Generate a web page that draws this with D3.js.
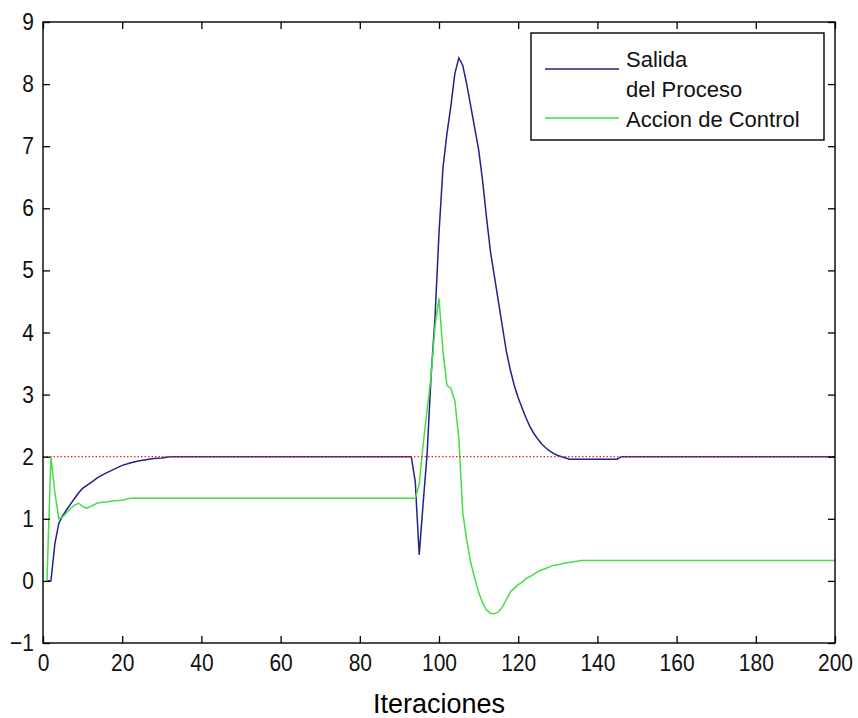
<!DOCTYPE html>
<html>
<head>
<meta charset="utf-8">
<script src="https://cdn.jsdelivr.net/npm/d3@7"></script>
<style>
  body { margin: 0; background: #fff; }
  svg { display: block; }
  text { font-family: "Liberation Sans", Arial, sans-serif; }
</style>
</head>
<body>
<div id="chart"></div>
<script>
const width = 858;
const height = 718;

// Salida del Proceso (blue)
const salidaX = [1, 2, 3, 4, 5, 6, 7, 8, 9, 10, 12, 14, 16, 18, 20, 22, 24, 26, 28, 30, 32,
  93, 94, 95, 96, 97, 98, 99, 100, 101, 102, 103, 104, 105, 106, 107, 108, 109, 110,
  111, 112, 113, 114, 115, 116, 117, 118, 119, 120, 121, 122, 123, 124, 125, 126, 127,
  128, 129, 130, 131, 132, 133, 145, 146, 200];
const salidaY = [0, 0, 0.6, 0.93, 1.05, 1.15, 1.24, 1.33, 1.42, 1.49, 1.58, 1.67, 1.74, 1.8, 1.86, 1.9, 1.93, 1.95, 1.97, 1.98, 2.0,
  2.0, 1.6, 0.42, 1.25, 2.05, 3.3, 4.25, 5.6, 6.65, 7.2, 7.65, 8.17, 8.42, 8.3, 8.0, 7.65, 7.3, 6.95,
  6.45, 5.85, 5.3, 4.9, 4.5, 4.1, 3.7, 3.4, 3.15, 2.95, 2.78, 2.62, 2.48, 2.37, 2.28, 2.2, 2.14,
  2.09, 2.05, 2.02, 2.0, 1.98, 1.96, 1.96, 2.0, 2.0];

// Accion de Control (green)
const accionX = [1, 2, 3, 4, 5, 6, 7, 8, 9, 10, 11, 12, 13, 14, 16, 18, 20, 22,
  94, 95, 96, 97, 98, 99, 100, 101, 102, 103, 104, 105, 106, 107, 108, 109, 110,
  111, 112, 113, 114, 115, 116, 117, 118, 119, 120, 121, 122, 123, 124, 125, 126,
  127, 128, 129, 130, 132, 134, 136, 200];
const accionY = [0, 2.0, 1.42, 1.0, 1.03, 1.1, 1.17, 1.22, 1.25, 1.2, 1.17, 1.2, 1.23, 1.26, 1.27, 1.29, 1.3, 1.33,
  1.33, 1.55, 2.2, 2.75, 3.3, 4.1, 4.55, 3.7, 3.15, 3.1, 2.9, 2.3, 1.1, 0.66, 0.3, 0.05, -0.18,
  -0.35, -0.47, -0.52, -0.53, -0.5, -0.42, -0.3, -0.18, -0.12, -0.06, -0.02, 0.04, 0.07, 0.11, 0.15, 0.18,
  0.2, 0.23, 0.25, 0.26, 0.29, 0.31, 0.33, 0.33];

// reference (red dotted)
const refX = [0, 200];
const refY = [2, 2];

const xTicks = [0, 20, 40, 60, 80, 100, 120, 140, 160, 180, 200];
const yTicks = [-1, 0, 1, 2, 3, 4, 5, 6, 7, 8, 9];

const margin = { top: 22, right: 23, bottom: 75, left: 43 };
const iw = width - margin.left - margin.right;
const ih = height - margin.top - margin.bottom;

const svg = d3.select("#chart")
  .append("svg")
  .attr("width", width)
  .attr("height", height);

const g = svg.append("g")
  .attr("transform", `translate(${margin.left},${margin.top})`);

const x = d3.scaleLinear().domain([0, 200]).range([0, iw]);
const y = d3.scaleLinear().domain([-1, 9]).range([ih, 0]);

const line = d3.line()
  .x(d => x(d[0]))
  .y(d => y(d[1]));

const zip = (xs, ys) => xs.map((v, i) => [v, ys[i]]);

g.append("path")
  .datum(zip(salidaX, salidaY))
  .attr("d", line)
  .attr("fill", "none")
  .attr("stroke", "#22228a")
  .attr("stroke-width", 1.5);

g.append("path")
  .datum(zip(accionX, accionY))
  .attr("d", line)
  .attr("fill", "none")
  .attr("stroke", "#45de45")
  .attr("stroke-width", 1.5);

g.append("path")
  .datum(zip(refX, refY))
  .attr("d", line)
  .attr("fill", "none")
  .attr("stroke", "#ff2020")
  .attr("stroke-width", 1.2)
  .attr("stroke-dasharray", "1.5,2");

// axes with inward ticks, box style
const tickLen = 7;

const xAxis = g.append("g")
  .attr("transform", `translate(0,${ih})`)
  .call(d3.axisBottom(x).tickValues(xTicks).tickSizeInner(-tickLen).tickSizeOuter(0).tickPadding(10));

const yAxis = g.append("g")
  .call(d3.axisLeft(y).tickValues(yTicks).tickSizeInner(-tickLen).tickSizeOuter(0).tickPadding(9));

g.append("g")
  .call(d3.axisTop(x).tickValues(xTicks).tickSizeInner(-tickLen).tickSizeOuter(0).tickFormat(""));

g.append("g")
  .attr("transform", `translate(${iw},0)`)
  .call(d3.axisRight(y).tickValues(yTicks).tickSizeInner(-tickLen).tickSizeOuter(0).tickFormat(""));

g.selectAll(".domain").remove();
g.selectAll(".tick line").attr("stroke", "#000").attr("stroke-width", 1.3);

// labels are slightly tall and narrow in the original
xAxis.selectAll("text")
  .attr("font-size", 21)
  .attr("fill", "#111")
  .attr("transform", "scale(1,1.12)");
yAxis.selectAll("text")
  .attr("font-size", 21)
  .attr("fill", "#111")
  .attr("transform", "scale(1,1.12)");

g.append("rect")
  .attr("width", iw)
  .attr("height", ih)
  .attr("fill", "none")
  .attr("stroke", "#000")
  .attr("stroke-width", 1.4);

svg.append("text")
  .attr("x", margin.left + iw / 2)
  .attr("y", 713)
  .attr("text-anchor", "middle")
  .attr("font-size", 27)
  .attr("fill", "#000")
  .text("Iteraciones");

// Legend
const legend = svg.append("g").attr("transform", "translate(531,33)");

legend.append("rect")
  .attr("width", 293)
  .attr("height", 107)
  .attr("fill", "#fff")
  .attr("stroke", "#000")
  .attr("stroke-width", 1.4);

const legendItems = [
  { lines: ["Salida", "del Proceso"], color: "#22228a", ly: 36, ty: 34 },
  { lines: ["Accion de Control"], color: "#45de45", ly: 85, ty: 94 }
];

legendItems.forEach(item => {
  legend.append("line")
    .attr("x1", 14)
    .attr("x2", 88)
    .attr("y1", item.ly)
    .attr("y2", item.ly)
    .attr("stroke", item.color)
    .attr("stroke-width", 1.5);

  const t = legend.append("text")
    .attr("x", 95)
    .attr("y", item.ty)
    .attr("font-size", 22)
    .attr("fill", "#111");
  item.lines.forEach((s, i) => {
    t.append("tspan")
      .attr("x", 95)
      .attr("dy", i === 0 ? 0 : 30)
      .text(s);
  });
});
</script>
</body>
</html>
